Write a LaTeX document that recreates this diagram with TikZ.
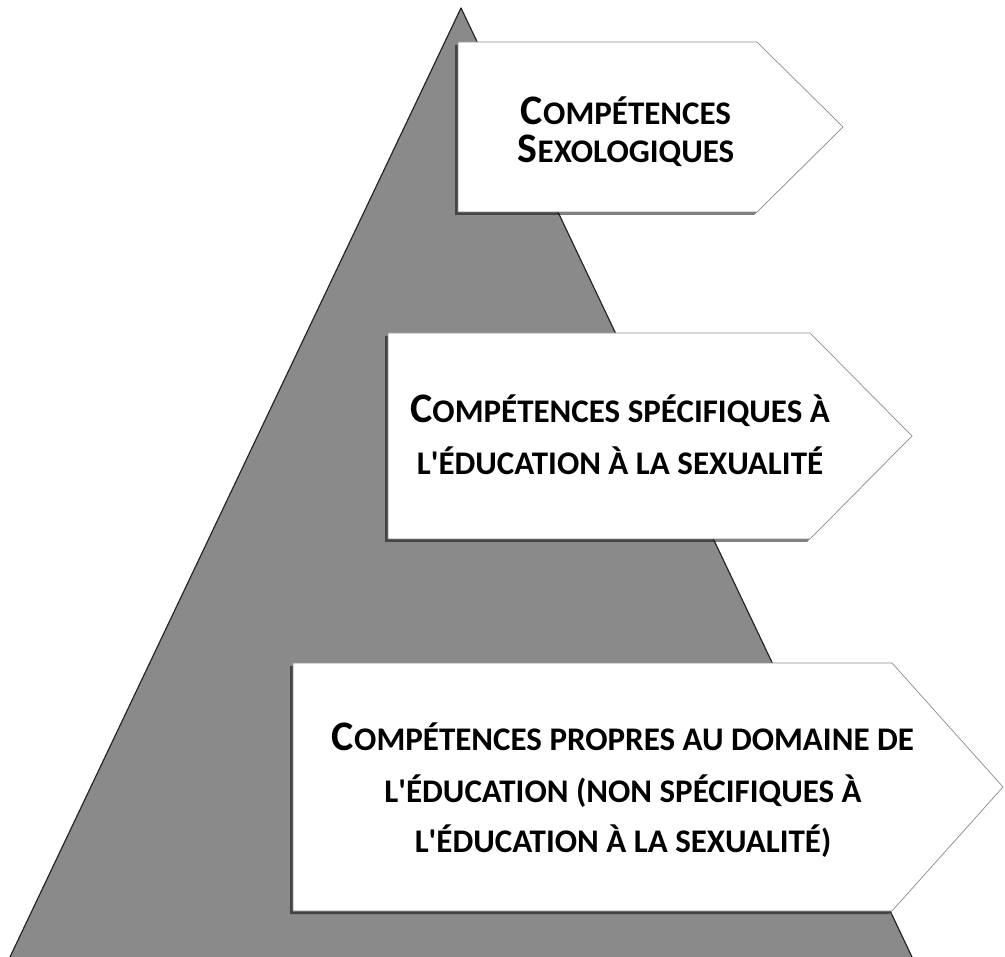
\documentclass[tikz,border=0pt]{standalone}
\usepackage{fontspec}
\newfontfamily\carlito{Carlito}
\newcommand\BigCap[1]{{\fontsize{42}{42}\selectfont #1}}
\definecolor{trigray}{HTML}{8A8A8A}
\tikzset{
  trifill/.style={fill=trigray},
  triedge/.style={draw=black!85, line width=1.2pt, line join=round},
  boxshadow/.style={fill=black, opacity=0.5},
  box/.style={fill=white, draw=black!45, line width=0.7pt, line join=miter},
  lbl/.style={font=\carlito\bfseries\fontsize{33}{33}\selectfont, anchor=base, inner sep=0pt, text=black}
}
\begin{document}
\begin{tikzpicture}[x=1pt,y=-1pt]
\useasboundingbox (0,0) rectangle (1005,957);
% pyramid
\fill[trifill] (461,8) -- (912,957) -- (10,957) -- cycle;
\draw[triedge] (10,957) -- (461,8) -- (912,957);
% box 1
\fill[boxshadow, shift={(-3,3)}] (458,42) -- (757,42) -- (843,127) -- (757,212) -- (458,212) -- cycle;
\filldraw[box] (458,42) -- (757,42) -- (843,127) -- (757,212) -- (458,212) -- cycle;
% box 2
\fill[boxshadow, shift={(-3,3)}] (388,333) -- (810,333) -- (912,436) -- (810,539) -- (388,539) -- cycle;
\filldraw[box] (388,333) -- (810,333) -- (912,436) -- (810,539) -- (388,539) -- cycle;
% box 3
\fill[boxshadow, shift={(-3,3)}] (293,663) -- (892,663) -- (1003,787) -- (892,911) -- (293,911) -- cycle;
\filldraw[box] (293,663) -- (892,663) -- (1003,787) -- (892,911) -- (293,911) -- cycle;
% texts
\node[lbl] (b1l1) at (626,125) {\BigCap{C}OMPÉTENCES};
\node[lbl] (b1l2) at (626,163) {\BigCap{S}EXOLOGIQUES};
\node[lbl] (b2l1) at (620,423) {\BigCap{C}OMPÉTENCES SPÉCIFIQUES À};
\node[lbl] (b2l2) at (620,475) {L\textquotesingle ÉDUCATION À LA SEXUALITÉ};
\node[lbl] (b3l1) at (623,750) {\BigCap{C}OMPÉTENCES PROPRES AU DOMAINE DE};
\node[lbl] (b3l2) at (623,802) {L\textquotesingle ÉDUCATION (NON SPÉCIFIQUES À};
\node[lbl] (b3l3) at (623,852) {L\textquotesingle ÉDUCATION À LA SEXUALITÉ)};
\end{tikzpicture}
\end{document}
